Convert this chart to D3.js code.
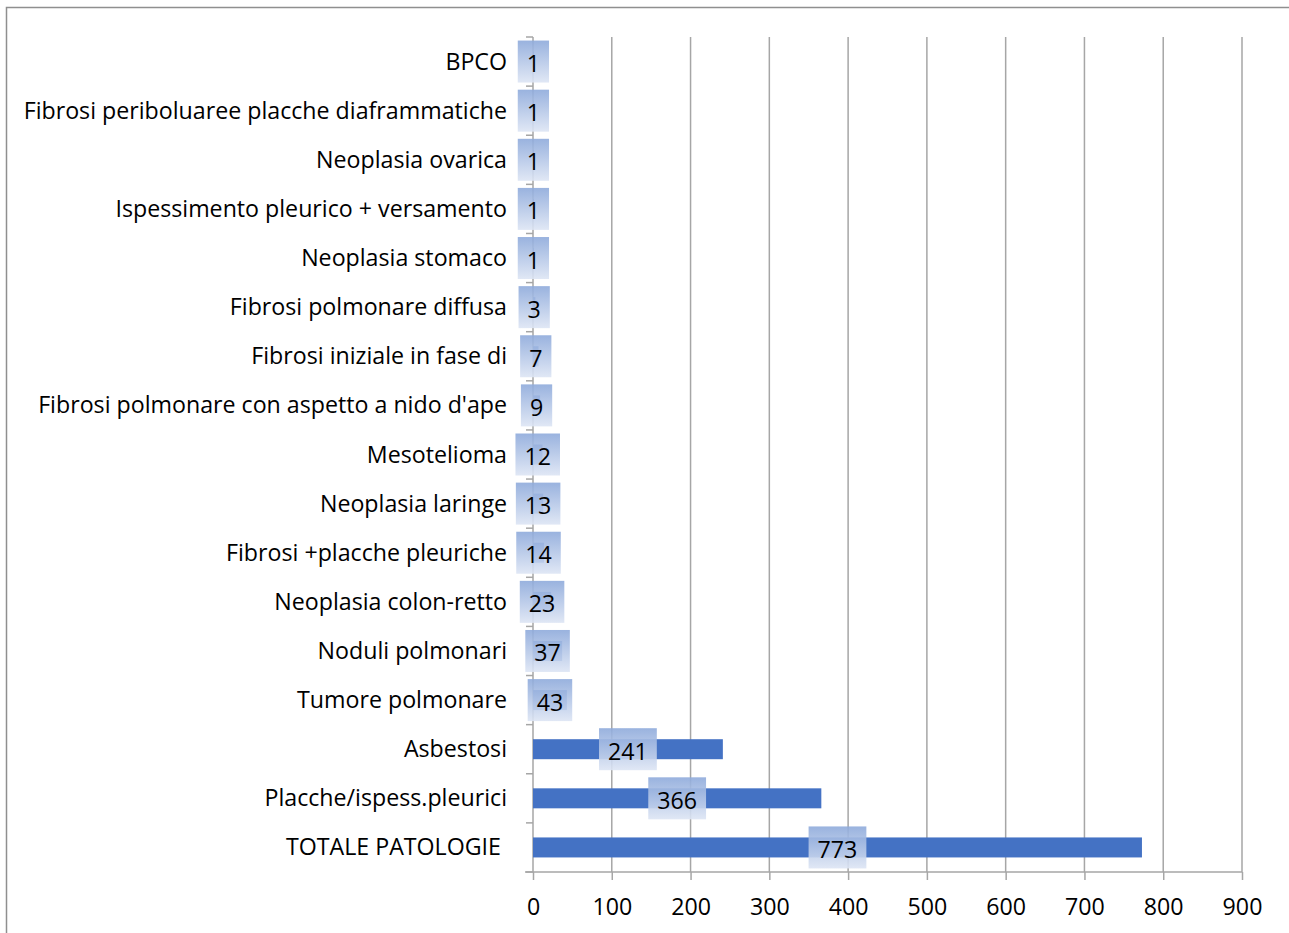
<!DOCTYPE html>
<html><head><meta charset="utf-8">
<script src="https://cdn.jsdelivr.net/npm/d3@7"></script>
<style>
html,body{margin:0;padding:0;background:#fff;}
svg{display:block;}
text{font-family:"Open Sans",sans-serif;fill:#000;white-space:pre;}
</style></head>
<body><svg id="chart" width="1289" height="933"></svg>
<script>
const categories = ["BPCO","Fibrosi periboluaree placche diaframmatiche","Neoplasia ovarica","Ispessimento pleurico + versamento","Neoplasia stomaco","Fibrosi polmonare diffusa","Fibrosi iniziale in fase di","Fibrosi polmonare con aspetto a nido d'ape","Mesotelioma","Neoplasia laringe","Fibrosi +placche pleuriche","Neoplasia colon-retto","Noduli polmonari","Tumore polmonare","Asbestosi","Placche/ispess.pleurici","TOTALE PATOLOGIE "];
const values = [1,1,1,1,1,3,7,9,12,13,14,23,37,43,241,366,773];
const xTicks = [0,100,200,300,400,500,600,700,800,900];

const svg = d3.select("#chart");
const defs = svg.append("defs");
const grad = defs.append("linearGradient").attr("id","lblg").attr("x1",0).attr("y1",0).attr("x2",0).attr("y2",1);
grad.append("stop").attr("offset","0%").attr("stop-color","#8eaadb");
grad.append("stop").attr("offset","100%").attr("stop-color","#dde5f4");

// frame
svg.append("rect").attr("x",6.5).attr("y",7.5).attr("width",1300).attr("height",1000)
  .attr("fill","none").attr("stroke","#8f8f8f").attr("stroke-width",1.5);

const x = d3.scaleLinear().domain([0,900]).range([533,1242]);
const y = d3.scaleBand().domain(categories).range([37,872]);
const barH = 20;
const fs = "23.2px";

// gridlines
svg.append("g").selectAll("line").data(xTicks.filter(d=>d>0)).join("line")
  .attr("x1",d=>x(d)).attr("x2",d=>x(d)).attr("y1",37).attr("y2",872)
  .attr("stroke","#a6a6a6").attr("stroke-width",1.5);

// x axis
const xAxis = d3.axisBottom(x).tickValues(xTicks).tickSize(8).tickPadding(19);
const gx = svg.append("g").attr("transform","translate(0,872)").call(xAxis);
gx.select(".domain").remove();
gx.selectAll(".tick line").attr("stroke","#a6a6a6").attr("stroke-width",1.5);
gx.selectAll(".tick text").style("font-size",fs).attr("fill","#000");
svg.append("line").attr("x1",525).attr("x2",1242).attr("y1",872).attr("y2",872)
  .attr("stroke","#a6a6a6").attr("stroke-width",1.5);

// y axis line + ticks at band boundaries
svg.append("line").attr("x1",533).attr("x2",533).attr("y1",37).attr("y2",872)
  .attr("stroke","#a6a6a6").attr("stroke-width",1.5);
const bounds = categories.map(c=>y(c)).concat([y(categories[categories.length-1])+y.bandwidth()]);
svg.append("g").selectAll("line").data(bounds).join("line")
  .attr("x1",526).attr("x2",533).attr("y1",d=>d).attr("y2",d=>d)
  .attr("stroke","#a6a6a6").attr("stroke-width",1.5);

// category labels
svg.append("g").selectAll("text").data(categories).join("text")
  .attr("x",507).attr("y",d=>y(d)+y.bandwidth()/2-1)
  .attr("text-anchor","end").attr("dominant-baseline","central")
  .style("font-size",fs).text(d=>d);

// bars
svg.append("g").selectAll("rect").data(values).join("rect")
  .attr("x",x(0)).attr("y",(d,i)=>y(categories[i])+y.bandwidth()/2-barH/2)
  .attr("width",d=>x(d)-x(0)).attr("height",barH).attr("fill","#4472c4");

// value labels
const lg = svg.append("g").selectAll("g").data(values).join("g")
  .attr("transform",(d,i)=>`translate(${(x(0)+x(d))/2},${y(categories[i])+y.bandwidth()/2})`);
lg.append("text").attr("text-anchor","middle").attr("dominant-baseline","central")
  .attr("y",1.5).style("font-size",fs).text(d=>d);
lg.each(function(){
  const g = d3.select(this);
  const w = g.select("text").node().getComputedTextLength() + 18;
  g.insert("rect","text").attr("x",-w/2).attr("y",-21).attr("width",w).attr("height",42)
    .attr("fill","url(#lblg)").attr("opacity",0.9);
});
</script></body></html>
